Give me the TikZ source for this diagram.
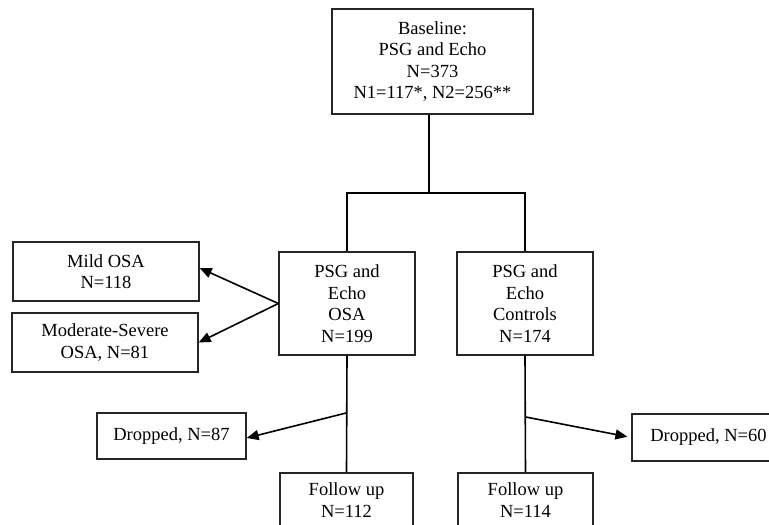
\documentclass[tikz,border=0pt]{standalone}
\usepackage{fontspec}
\setmainfont{Liberation Serif}
\usetikzlibrary{arrows.meta,calc}
\begin{document}
\begin{tikzpicture}[x=1pt,y=-1pt,
  box/.style={draw=black!85,line width=1.3pt,rectangle,inner sep=0pt,align=center,
    font=\fontsize{18.5}{21.5}\selectfont,text=black},
  conn/.style={draw=black,line width=1.6pt},
  arr/.style={conn,-{Triangle[length=12pt,width=10pt]}}]
\useasboundingbox (0,0) rectangle (769,525);
\clip (0,0) rectangle (769,525);
\fill[white] (0,0) rectangle (769,525);
\node[box,minimum width=201pt,minimum height=105pt] (base) at (432.5,61.5)
  {Baseline:\\PSG and Echo\\N=373\\N1=117*, N2=256**};
\node[box,minimum width=136pt,minimum height=103pt] (osa) at (347,303.5)
  {PSG and\\Echo\\OSA\\N=199};
\node[box,minimum width=136pt,minimum height=103pt] (ctrl) at (525,303.5)
  {PSG and\\Echo\\Controls\\N=174};
\node[box,minimum width=186pt,minimum height=59pt] (mild) at (106,271.5)
  {Mild OSA\\N=118};
\node[box,minimum width=186pt,minimum height=59pt] (mod) at (105,342.5)
  {Moderate-Severe\\OSA, N=81};
\node[box,minimum width=149pt,minimum height=46pt] (drop1) at (171.5,436)
  {Dropped, N=87};
\node[box,minimum width=153pt,minimum height=47pt] (drop2) at (708.5,437.5)
  {Dropped, N=60};
\node[box,minimum width=133pt,minimum height=54pt] (fu1) at (346.5,500)
  {Follow up\\N=112};
\node[box,minimum width=135pt,minimum height=54pt] (fu2) at (525.5,500)
  {Follow up\\N=114};
\coordinate (j) at (429,193);
\draw[conn] (j|-base.south) -- (j);
\draw[conn] (osa.north) -- (osa.north|-j) -- (ctrl.north|-j) -- (ctrl.north);
\draw[arr] (osa.west) -- ([yshift=3.5pt]mild.east);
\draw[arr] (osa.west) -- (mod.east);
\draw[conn] (osa.south) -- (fu1.north);
\draw[conn] (ctrl.south) -- (fu2.north);
\coordinate (b1) at ($(osa.south)!0.49!(fu1.north)$);
\coordinate (b2) at ($(ctrl.south)!0.525!(fu2.north)$);
\draw[arr] (b1) -- ([yshift=-2pt]drop1.east);
\draw[arr,shorten >=4pt] (b2) -- (drop2.west);
\end{tikzpicture}
\end{document}
